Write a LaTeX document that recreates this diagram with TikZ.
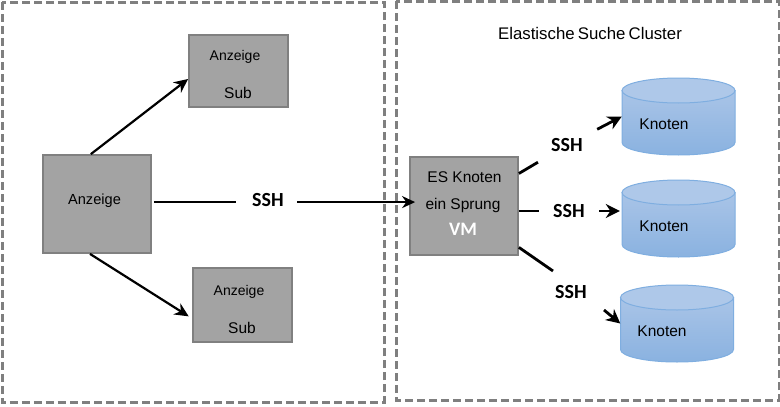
\documentclass[tikz,border=0pt]{standalone}
\usepackage{fontspec}
\setmainfont{Liberation Sans}
\newfontfamily\carlito{Carlito}
\usetikzlibrary{arrows.meta,calc}
\definecolor{boxgrey}{HTML}{A3A3A3}
\definecolor{boxedge}{HTML}{808080}
\definecolor{dashgrey}{HTML}{7F7F7F}
\definecolor{cyltop}{HTML}{AEC8E9}
\definecolor{cylhi}{HTML}{A9C4E7}
\definecolor{cyllo}{HTML}{8AB2E0}
\definecolor{cyledge}{HTML}{7FAEE0}
\tikzset{
  region/.style={draw=dashgrey,line width=3pt,dash pattern=on 8pt off 4pt},
  greybox/.style={draw=boxedge,fill=boxgrey,line width=1.8pt,inner sep=0pt},
  cylframe/.style={minimum width=113pt,minimum height=77pt,inner sep=0pt},
  cylbody/.style={draw=cyledge,line width=1pt,top color=cylhi,bottom color=cyllo},
  cyllid/.style={draw=cyledge,line width=1pt,fill=cyltop},
  lab/.style={anchor=base,inner sep=0pt,text=black},
  labsm/.style={lab,font=\fontsize{14}{16}\selectfont},
  labmd/.style={lab,font=\fontsize{15.5}{18}\selectfont},
  sshlab/.style={font=\carlito\bfseries\fontsize{20}{22}\selectfont,inner sep=0pt,minimum width=60pt,minimum height=34pt},
  link/.style={draw=black,line width=2.8pt},
  thinlink/.style={draw=black,line width=2.2pt,-{Stealth[length=14pt,width=13pt]}},
  arrowlink/.style={link,-{Stealth[length=13pt,width=12pt]}},
  shortarrow/.style={link,-{Stealth[length=14pt,width=14pt]}},
}
\newcommand{\cylnode}[3]{%
  \begin{scope}[shift={(#2,#3)}]
    \path[cylbody] (-56.5,-26) -- (-56.5,26) .. controls (-56.5,32.9) and (-31.2,38.5) .. (0,38.5)
      .. controls (31.2,38.5) and (56.5,32.9) .. (56.5,26) -- (56.5,-26) -- cycle;
    \path[cyllid] (0,-26) ellipse [x radius=56.5,y radius=12.5];
    \node[cylframe] (#1) at (0,0) {};
  \end{scope}}
\begin{document}
\begin{tikzpicture}[x=1pt,y=-1pt]
\useasboundingbox (0,0) rectangle (780,407);
\fill[white] (0,0) rectangle (780,407);
\draw[region] (2,2) rectangle (384,402);
\draw[region] (396,1) rectangle (779,400);

\node[greybox,minimum width=99pt,minimum height=72pt] (sub1) at (238.5,71) {};
\node[greybox,minimum width=108pt,minimum height=98pt] (main) at (97,204) {};
\node[greybox,minimum width=99pt,minimum height=74pt] (sub2) at (242.5,305) {};
\node[greybox,minimum width=108pt,minimum height=98pt] (vm) at (464,206) {};

\node[labsm] (t1) at (235,60.5) {Anzeige};
\node[labmd] (t2) at (238,98) {Sub};
\node[lab,font=\fontsize{14.6}{16}\selectfont] (t3) at (94.5,204) {Anzeige};
\node[labsm] (t4) at (239,295) {Anzeige};
\node[labmd] (t5) at (242,333) {Sub};
\node[labmd] (t6) at (464.5,182) {ES Knoten};
\node[labmd] (t7) at (463,209) {ein Sprung};
\node[lab,font=\carlito\bfseries\fontsize{19}{21}\selectfont,text=white] (t8) at (463,235) {VM};
\node[lab,font=\fontsize{16.8}{18}\selectfont] (title) at (590,39) {Elastische\hspace{-1.5pt} Suche\hspace{-1.5pt} Cluster};

\cylnode{node1}{678.5}{116.5}
\cylnode{node2}{678.5}{218.5}
\cylnode{node3}{677}{323.5}
\node[labmd] (k1) at (664,129) {Knoten};
\node[labmd] (k2) at (664,231) {Knoten};
\node[labmd] (k3) at (662,336) {Knoten};

\node[sshlab] (sshm) at (268,200) {SSH};
\node[sshlab] (ssha) at (567,145) {SSH};
\node[sshlab] (sshb) at (569,211) {SSH};
\node[sshlab] (sshc) at (571,292) {SSH};
\coordinate (cin) at (553,271);
\coordinate (cout) at (604,310);

\draw[thinlink] (main.97) -- (sub1.189);
\draw[thinlink,shorten >=4pt] (main.262) -- (sub2.195);
\draw[link,shorten <=2pt] (main.2) -- ($(sshm.west |- main.2)+(-2,0)$);
\draw[arrowlink,shorten >=-6pt] ($(sshm.east |- main.2)+(-1,0)$) -- (vm.west |- main.2);

\draw[link] (vm) -- (ssha);
\draw[shortarrow] (ssha) -- (node1.west);
\draw[link] (vm.east |- sshb) -- (sshb);
\draw[shortarrow,shorten >=2pt] (sshb) -- (node2.west |- sshb);
\draw[link] (vm.-37) -- (cin);
\draw[shortarrow] (cout) -- (node3.west);
\end{tikzpicture}
\end{document}
